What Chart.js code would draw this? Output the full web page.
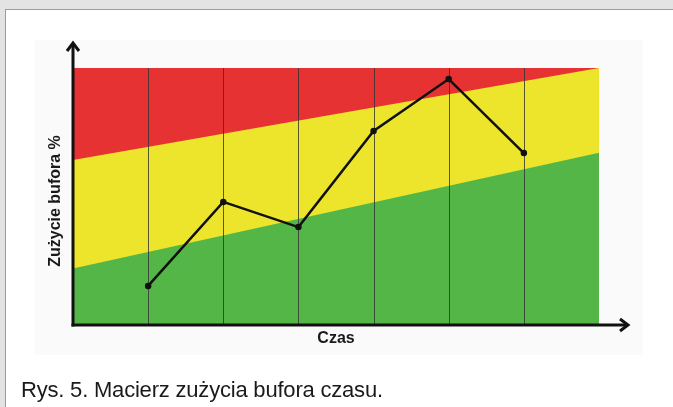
<!DOCTYPE html>
<html>
<head>
<meta charset="utf-8">
<script src="https://cdn.jsdelivr.net/npm/chart.js@4/dist/chart.umd.min.js"></script>
<style>
  html, body { margin: 0; padding: 0; }
  body { width: 673px; height: 407px; background: #e3e3e3; position: relative; overflow: hidden; font-family: "Liberation Sans", Arial, sans-serif; }
  #panel { position: absolute; left: 5px; top: 9px; width: 700px; height: 420px; background: #ffffff; border: 1px solid #9c9c9c; box-sizing: border-box; }
  #imgbg { position: absolute; left: 35px; top: 40px; width: 608px; height: 315px; background: #fafafa; }
  #wrap { position: absolute; left: 0; top: 0; width: 673px; height: 407px; }
  #caption { position: absolute; left: 21px; top: 379px; font-size: 22px; line-height: 22px; letter-spacing: -0.2px; color: #1a1a1a; white-space: nowrap; }
</style>
</head>
<body>
<div id="panel"></div>
<div id="imgbg"></div>
<div id="wrap"><canvas id="c" width="673" height="407"></canvas></div>
<div id="caption">Rys. 5. Macierz zużycia bufora czasu.</div>
<script>
// ---- data ----
const timePoints = [1, 2, 3, 4, 5, 6];
const bufferUsage = [15.2, 47.9, 38.1, 75.5, 95.7, 66.9];
const zoneX = [0, 7];
const greenTop = [22.0, 67.0];
const yellowTop = [64.2, 100];
const redTop = [100, 100];
const gridTicks = [1, 2, 3, 4, 5, 6];
const xTitle = 'Czas';
const yTitle = 'Zużycie bufora %';

const toXY = (xs, ys) => xs.map((x, i) => ({ x: x, y: ys[i] }));

const gridPlugin = {
  id: 'verticalGrid',
  beforeDatasetDraw(chart, args) {
    if (args.index !== 0) return;
    const { ctx, chartArea, scales } = chart;
    ctx.save();
    ctx.strokeStyle = 'rgba(50,50,50,0.8)';
    ctx.lineWidth = 1;
    gridTicks.forEach(v => {
      const px = Math.round(scales.x.getPixelForValue(v)) + 0.5;
      ctx.beginPath();
      ctx.moveTo(px, chartArea.top);
      ctx.lineTo(px, chartArea.bottom);
      ctx.stroke();
    });
    ctx.restore();
  }
};

const axesPlugin = {
  id: 'arrowAxes',
  afterDraw(chart) {
    const { ctx, chartArea } = chart;
    const x0 = chartArea.left, y0 = chartArea.bottom;
    ctx.save();
    ctx.strokeStyle = '#111';
    ctx.lineWidth = 3;
    ctx.lineCap = 'butt';
    ctx.beginPath();
    ctx.moveTo(x0, y0 + 1.5);
    ctx.lineTo(x0, chartArea.top - 24);
    ctx.stroke();
    ctx.beginPath();
    ctx.moveTo(x0 - 1.5, y0);
    ctx.lineTo(chartArea.right + 28, y0);
    ctx.stroke();
    ctx.lineJoin = 'miter';
    const ty = chartArea.top - 25;
    ctx.beginPath();
    ctx.moveTo(x0 - 6, ty + 8);
    ctx.lineTo(x0, ty);
    ctx.lineTo(x0 + 6, ty + 8);
    ctx.stroke();
    const tx = chartArea.right + 29;
    ctx.beginPath();
    ctx.moveTo(tx - 8, y0 - 6);
    ctx.lineTo(tx, y0);
    ctx.lineTo(tx - 8, y0 + 6);
    ctx.stroke();
    ctx.fillStyle = '#1a1a1a';
    ctx.font = 'bold 16px "Liberation Sans", Arial, sans-serif';
    ctx.textAlign = 'center';
    ctx.textBaseline = 'middle';
    ctx.fillText(xTitle, (chartArea.left + chartArea.right) / 2, y0 + 14);
    ctx.translate(56, 201);
    ctx.rotate(-Math.PI / 2);
    ctx.fillText(yTitle, 0, 0);
    ctx.restore();
  }
};

new Chart(document.getElementById('c'), {
  type: 'scatter',
  data: {
    datasets: [
      {
        data: toXY(timePoints, bufferUsage),
        showLine: true,
        borderColor: '#111',
        backgroundColor: '#111',
        borderWidth: 2.5,
        pointRadius: 2,
        pointHoverRadius: 2,
        fill: false,
        tension: 0
      },
      {
        data: toXY(zoneX, greenTop),
        showLine: true,
        borderWidth: 0,
        pointRadius: 0,
        borderColor: 'rgba(0,0,0,0)',
        backgroundColor: '#55b648',
        fill: 'origin'
      },
      {
        data: toXY(zoneX, yellowTop),
        showLine: true,
        borderWidth: 0,
        pointRadius: 0,
        borderColor: 'rgba(0,0,0,0)',
        backgroundColor: '#ede52b',
        fill: 'origin'
      },
      {
        data: toXY(zoneX, redTop),
        showLine: true,
        borderWidth: 0,
        pointRadius: 0,
        borderColor: 'rgba(0,0,0,0)',
        backgroundColor: '#e73234',
        fill: 'origin'
      }
    ]
  },
  options: {
    responsive: false,
    animation: false,
    layout: { padding: { left: 73, right: 74, top: 68, bottom: 82 } },
    plugins: { legend: { display: false }, tooltip: { enabled: false } },
    scales: {
      x: { type: 'linear', min: 0, max: 7, display: false },
      y: { type: 'linear', min: 0, max: 100, display: false }
    }
  },
  plugins: [gridPlugin, axesPlugin]
});
</script>
</body>
</html>
